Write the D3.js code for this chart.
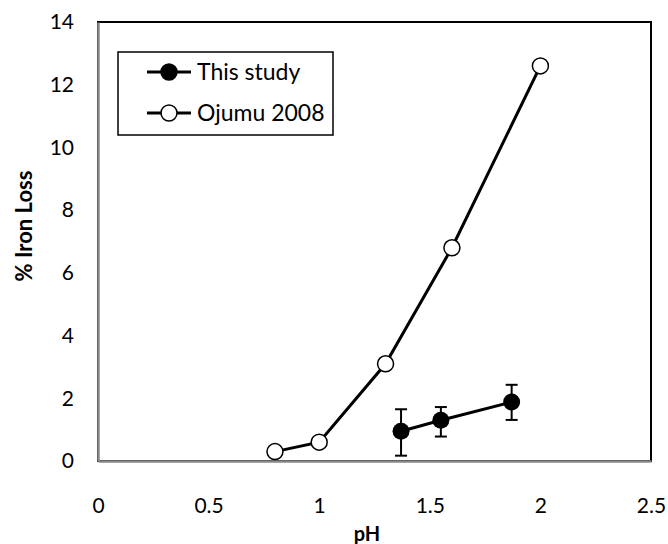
<!DOCTYPE html>
<html>
<head>
<meta charset="utf-8">
<script src="https://cdn.jsdelivr.net/npm/d3@7"></script>
<style>
body { margin: 0; background: #fff; }
text { font-family: Lato, "Open Sans", sans-serif; fill: #000; }
</style>
</head>
<body>
<div id="chart"></div>
<script>
var svgWidth = 668;
var svgHeight = 544;

var margin = { top: 22, right: 17, bottom: 83, left: 98 };
var chartWidth = svgWidth - margin.left - margin.right;
var chartHeight = svgHeight - margin.top - margin.bottom;

// data
var studyPH = [1.37, 1.55, 1.87];
var studyLoss = [0.95, 1.3, 1.88];
var studyErrLow = [0.78, 0.52, 0.57];
var studyErrHigh = [0.7, 0.42, 0.55];

var ojumuPH = [0.8, 1.0, 1.3, 1.6, 2.0];
var ojumuLoss = [0.3, 0.6, 3.1, 6.8, 12.6];

var xTicks = [0, 0.5, 1, 1.5, 2, 2.5];
var yTicks = [0, 2, 4, 6, 8, 10, 12, 14];
var seriesNames = ["This study", "Ojumu 2008"];

var study = studyPH.map((p, i) => ({ x: p, y: studyLoss[i], lo: studyErrLow[i], hi: studyErrHigh[i] }));
var ojumu = ojumuPH.map((p, i) => ({ x: p, y: ojumuLoss[i] }));

var svg = d3.select("#chart")
    .append("svg")
    .attr("width", svgWidth)
    .attr("height", svgHeight);

var chartGroup = svg.append("g")
    .attr("transform", `translate(${margin.left},${margin.top})`);

var xScale = d3.scaleLinear().domain([0, 2.5]).range([0, chartWidth]);
var yScale = d3.scaleLinear().domain([0, 14]).range([chartHeight, 0]);

// plot frame
chartGroup.append("rect")
    .attr("width", chartWidth)
    .attr("height", chartHeight)
    .attr("fill", "none")
    .attr("stroke", "#000")
    .attr("stroke-width", 2);

var bottomAxis = d3.axisBottom(xScale).tickValues(xTicks).tickSize(0).tickPadding(37)
    .tickFormat(d3.format("~g"));
var leftAxis = d3.axisLeft(yScale).tickValues(yTicks).tickSize(0).tickPadding(24);

var xAxis = chartGroup.append("g")
    .attr("transform", `translate(0, ${chartHeight})`)
    .call(bottomAxis);
var yAxis = chartGroup.append("g").call(leftAxis);

[xAxis, yAxis].forEach(function(ax) {
    ax.select(".domain").attr("stroke", "#888").attr("stroke-width", 2.5);
    ax.selectAll("text").style("font-size", "21px").attr("fill", "#000");
});

// lines
var line = d3.line().x(d => xScale(d.x)).y(d => yScale(d.y));

chartGroup.append("path")
    .datum(ojumu)
    .attr("d", line)
    .attr("fill", "none")
    .attr("stroke", "#000")
    .attr("stroke-width", 3);

chartGroup.append("path")
    .datum(study)
    .attr("d", line)
    .attr("fill", "none")
    .attr("stroke", "#000")
    .attr("stroke-width", 3);

// error bars
var errs = chartGroup.selectAll("g.err")
    .data(study)
    .enter()
    .append("g")
    .attr("stroke", "#000")
    .attr("stroke-width", 2);

errs.append("line")
    .attr("x1", d => xScale(d.x)).attr("x2", d => xScale(d.x))
    .attr("y1", d => yScale(d.y - d.lo)).attr("y2", d => yScale(d.y + d.hi));
errs.append("line")
    .attr("x1", d => xScale(d.x) - 6).attr("x2", d => xScale(d.x) + 6)
    .attr("y1", d => yScale(d.y - d.lo)).attr("y2", d => yScale(d.y - d.lo));
errs.append("line")
    .attr("x1", d => xScale(d.x) - 6).attr("x2", d => xScale(d.x) + 6)
    .attr("y1", d => yScale(d.y + d.hi)).attr("y2", d => yScale(d.y + d.hi));

// markers
chartGroup.selectAll("circle.oj")
    .data(ojumu)
    .enter()
    .append("circle")
    .attr("cx", d => xScale(d.x))
    .attr("cy", d => yScale(d.y))
    .attr("r", 8)
    .attr("fill", "#fff")
    .attr("stroke", "#000")
    .attr("stroke-width", 1.5);

chartGroup.selectAll("circle.st")
    .data(study)
    .enter()
    .append("circle")
    .attr("cx", d => xScale(d.x))
    .attr("cy", d => yScale(d.y))
    .attr("r", 8.5)
    .attr("fill", "#000");

// legend
var legend = chartGroup.append("g").attr("transform", "translate(20, 30)");
legend.append("rect")
    .attr("width", 215)
    .attr("height", 83)
    .attr("fill", "#fff")
    .attr("stroke", "#000")
    .attr("stroke-width", 1.5);

var rows = legend.selectAll("g.row")
    .data(seriesNames)
    .enter()
    .append("g")
    .attr("transform", (d, i) => `translate(0, ${20 + i * 41})`);

rows.append("line")
    .attr("x1", 29).attr("x2", 73)
    .attr("stroke", "#000").attr("stroke-width", 3);
rows.append("circle")
    .attr("cx", 51)
    .attr("r", 8)
    .attr("fill", (d, i) => i === 0 ? "#000" : "#fff")
    .attr("stroke", "#000")
    .attr("stroke-width", 1.5);
rows.append("text")
    .attr("x", 79)
    .attr("dy", "0.36em")
    .style("font-size", "23px")
    .text(d => d);

// axis titles
svg.append("text")
    .attr("x", 367)
    .attr("y", 541)
    .attr("text-anchor", "middle")
    .style("font-size", "20px")
    .style("font-weight", "bold")
    .text("pH");

svg.append("text")
    .attr("transform", "rotate(-90)")
    .attr("x", -226)
    .attr("y", 32)
    .attr("text-anchor", "middle")
    .style("font-size", "22px")
    .style("font-weight", "bold")
    .text("% Iron Loss");
</script>
</body>
</html>
